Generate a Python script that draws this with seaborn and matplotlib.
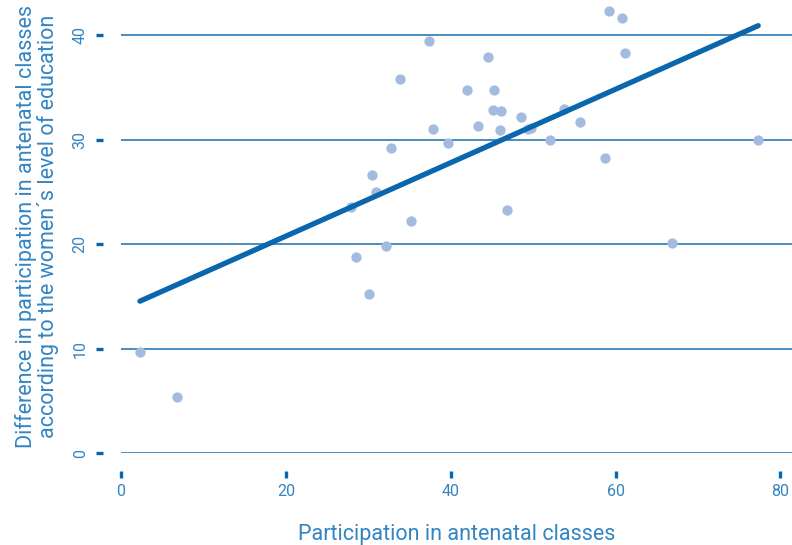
import numpy as np
import pandas as pd
import matplotlib
matplotlib.use("Agg")
import matplotlib.pyplot as plt
import seaborn as sns

# Participation in antenatal classes (x) vs difference by education level (y)
participation = [2.3, 6.8, 27.9, 28.5, 30.1, 30.5, 30.9, 32.2, 32.7, 33.9,
                 35.2, 37.4, 37.8, 39.7, 42.0, 43.3, 44.5, 45.1, 45.2, 46.0,
                 46.1, 46.8, 48.5, 49.4, 49.7, 52.1, 53.7, 55.7, 58.7, 59.2,
                 60.8, 61.1, 66.8, 77.3]
difference = [9.7, 5.4, 23.5, 18.8, 15.2, 26.6, 25.0, 19.8, 29.2, 35.8,
              22.2, 39.4, 31.0, 29.7, 34.7, 31.3, 37.9, 32.8, 34.7, 30.9,
              32.7, 23.3, 32.2, 31.0, 31.1, 30.0, 32.9, 31.7, 28.2, 42.3,
              41.6, 38.3, 20.1, 30.0]

x_ticks = [0, 20, 40, 60, 80]
y_ticks = [0, 10, 20, 30, 40]

COR_PONTO = "#a3bbdf"
COR_LINHA = "#0a66ad"
COR_GRELHA = "#1d6cae"
COR_TEXTO = "#3385c2"

df = pd.DataFrame({"x": participation, "y": difference})

sns.set_theme(style="white")
plt.rcParams["font.family"] = ["Roboto", "DejaVu Sans"]

fig = plt.figure(figsize=(7.92, 5.45), dpi=100)
ax = fig.add_axes([0.1528, 0.1688, 0.8472, 0.8312])

for yv in y_ticks:
    ax.axhline(yv, color=COR_GRELHA, lw=1.1, zorder=1)

sns.regplot(data=df, x="x", y="y", ax=ax, ci=None,
            scatter_kws=dict(s=55, color=COR_PONTO, alpha=1, linewidths=0, zorder=3),
            line_kws=dict(color=COR_LINHA, lw=3.8, solid_capstyle="round", zorder=4))

ax.set_xlim(0, 81.4)
ax.set_ylim(0, 43.35)
ax.set_xticks(x_ticks)
ax.set_yticks(y_ticks)

for s in ax.spines.values():
    s.set_visible(False)
ax.spines["left"].set_position(("outward", 13))
ax.spines["bottom"].set_position(("outward", 13))

ax.tick_params(axis="both", direction="out", length=5, width=2.4,
               color=COR_LINHA, labelcolor=COR_TEXTO, labelsize=11.5)
ax.tick_params(axis="x", pad=4, bottom=True)
ax.tick_params(axis="y", pad=6, left=True)
for lab in ax.get_yticklabels():
    lab.set_rotation(90)
    lab.set_va("center")

ax.set_xlabel("Participation in antenatal classes", color=COR_TEXTO,
              fontsize=15.5, labelpad=18)
ax.set_ylabel("Difference in participation in antenatal classes\n"
              "according to the women\u00b4s level of education",
              color=COR_TEXTO, fontsize=15.5, labelpad=10,
              linespacing=1.0)
ax.grid(False)

fig.savefig("out.png", dpi=100)
